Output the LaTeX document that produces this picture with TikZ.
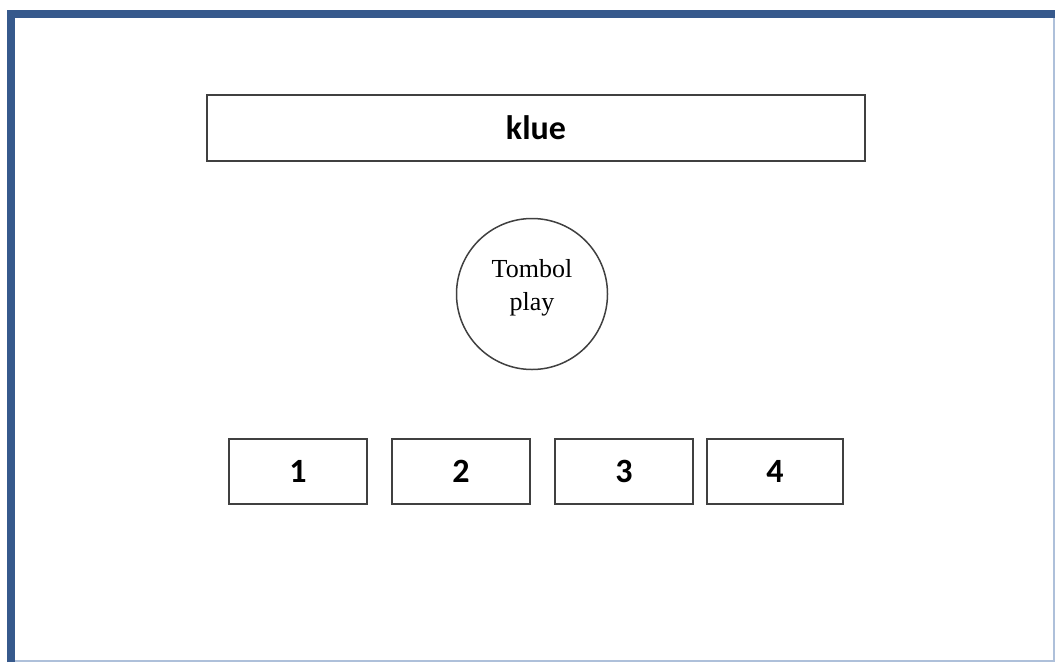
\documentclass[tikz,border=0pt]{standalone}
\usepackage{fontspec}
\newfontfamily\labelfont{Carlito}
\newfontfamily\circfont{Liberation Serif}
\definecolor{framedark}{HTML}{36598C}
\definecolor{framelight}{HTML}{AEC0DA}
\begin{document}
\begin{tikzpicture}[x=1pt, y=-1pt,
    kotak/.style={draw=black!75, line width=1.2pt, inner sep=0pt, font=\labelfont\bfseries\fontsize{34}{40}\selectfont},
    bulat/.style={draw=black!75, line width=1.5pt, circle, minimum size=151pt, inner sep=0pt, text depth=18pt, align=center, font=\circfont\fontsize{26}{33}\selectfont}]
                \useasboundingbox (0,0) rectangle (1055,662);
                % frame
                \draw[framelight, line width=2pt] (15,660.5) -- (1053.5,660.5) -- (1053.5,17);
                \draw[framedark, line width=8pt] (11,662) -- (11,14) -- (1055,14);
                % title bar
                \node[kotak, minimum width=658pt, minimum height=66pt] (klue) at (536,128) {klue};
                % play button
                \node[bulat] (tombol) at (532,294) {Tombol\\play};
                % answer boxes
                \node[kotak, minimum width=138pt, minimum height=65pt] (b1) at (298,471.5) {1};
                \node[kotak, minimum width=138pt, minimum height=65pt] (b2) at (461,471.5) {2};
                \node[kotak, minimum width=138pt, minimum height=65pt] (b3) at (624,471.5) {3};
                \node[kotak, minimum width=136pt, minimum height=65pt] (b4) at (775,471.5) {4};
            \end{tikzpicture}
\end{document}
